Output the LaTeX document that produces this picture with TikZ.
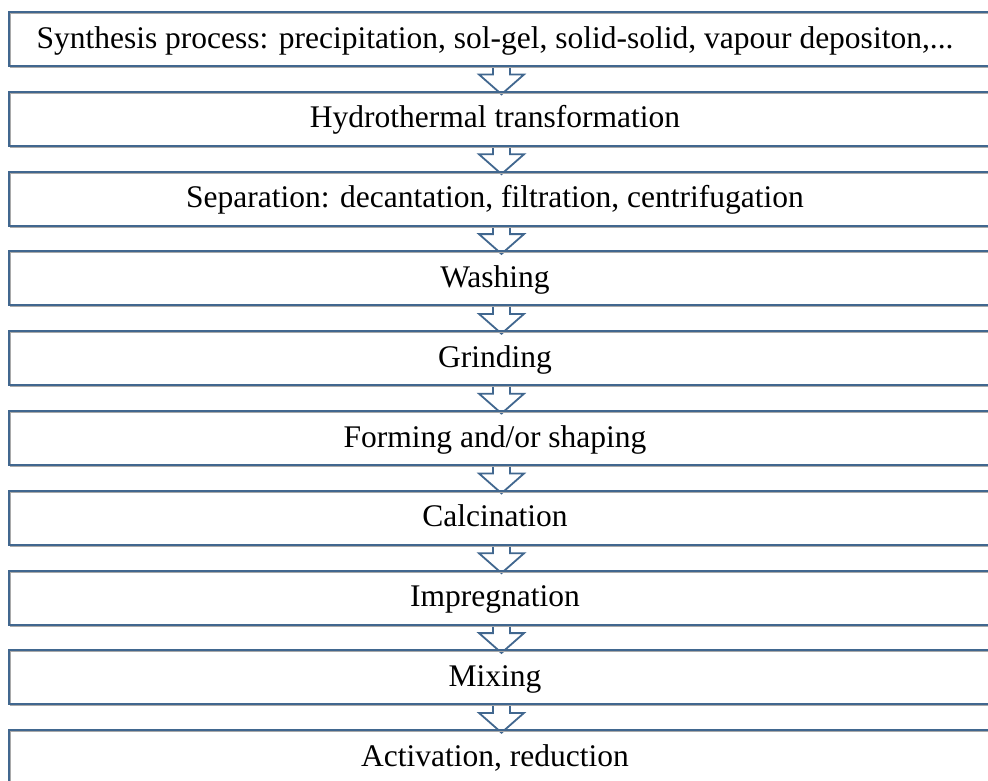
\documentclass[tikz,border=0pt]{standalone}
\usepackage{fontspec}
\setmainfont{Liberation Serif}
\usetikzlibrary{backgrounds}
\definecolor{edgeblue}{HTML}{41678F}
\definecolor{edgegray}{HTML}{A9A9A9}
\tikzset{
  stagebox/.style={rectangle, draw=edgeblue, line width=2pt, outer sep=0pt,
    minimum width=985pt, minimum height=54pt, inner sep=0pt,
    preaction={draw=edgegray, line width=1.3pt,
      transform canvas={xshift=1.3pt, yshift=-1.3pt}}},
  stagetext/.style={anchor=base, inner sep=0pt, font=\fontsize{31.5}{34}\selectfont},
  flowarrow/.style={draw=edgeblue, fill=white, line width=1.8pt, line join=miter}
}
\begin{document}
\begin{tikzpicture}[x=1pt, y=-1pt]
\useasboundingbox (0,0) rectangle (988,780);
\clip (0,0) rectangle (988,780);
% stage frames and their labels
\foreach \i/\txt in {
  1/{Synthesis process: precipitation, sol-gel, solid-solid, vapour depositon,...},
  2/{Hydrothermal transformation},
  3/{Separation: decantation, filtration, centrifugation},
  4/{Washing},
  5/{Grinding},
  6/{Forming and/or shaping},
  7/{Calcination},
  8/{Impregnation},
  9/{Mixing},
  10/{Activation, reduction}} {
  \pgfmathsetmacro{\top}{12 + 79.8*(\i-1)}
  \node[stagebox] (b\i) at (501.5, \top+27) {};
  \node[stagetext] (t\i) at (495, \top+36) {\txt};
}
% hollow arrows between consecutive stages, drawn beneath the frames
\begin{scope}[on background layer]
\fill[white] (0,0) rectangle (988,780);
\foreach \i [evaluate=\i as \j using int(\i+1)] in {1,...,9} {
  \draw[flowarrow] ([xshift=-8.5pt]b\i.south) -- ++(0,8.5) -- ++(-14,0)
    -- ([yshift=-2.5pt]b\j.north) -- ([xshift=22.5pt, yshift=-8.5pt]b\i.south)
    -- ++(-14,0) -- ([xshift=8.5pt]b\i.south);
}
\end{scope}
\end{tikzpicture}
\end{document}
